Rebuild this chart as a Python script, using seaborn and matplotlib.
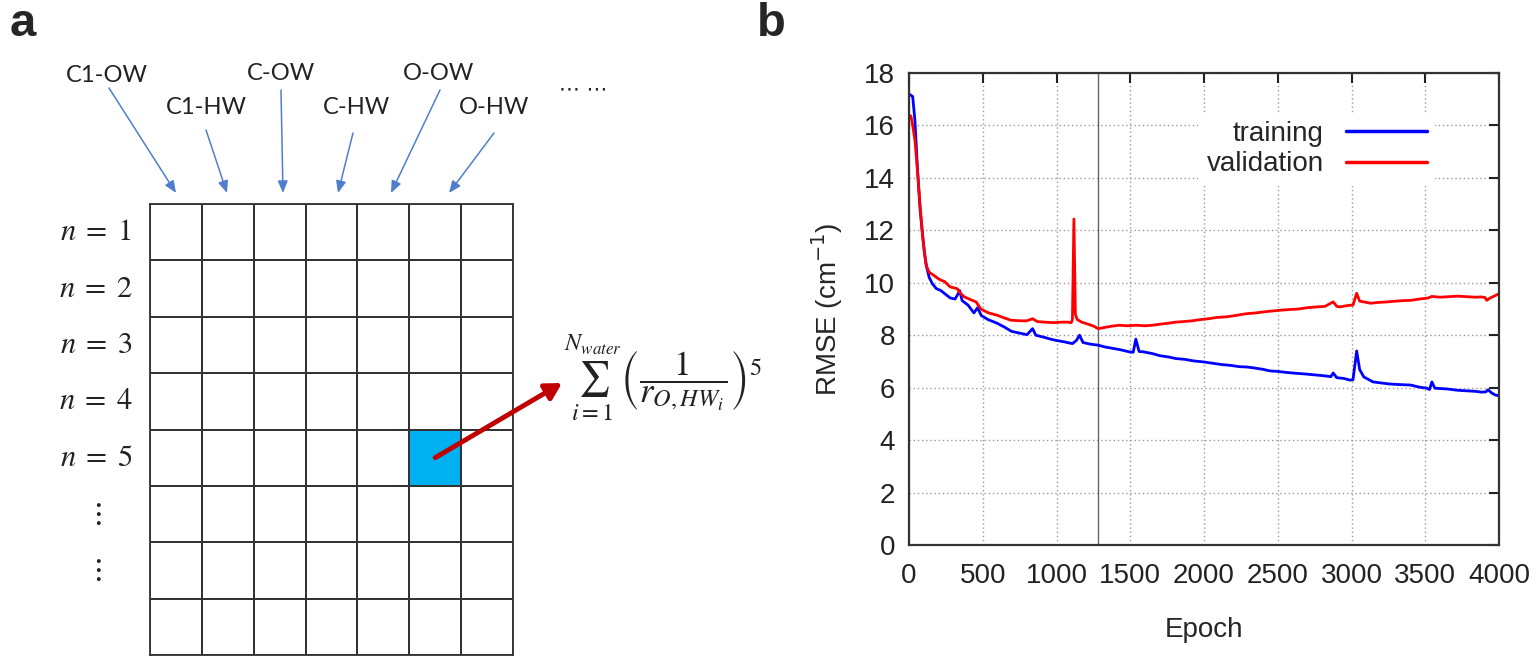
import numpy as np
import pandas as pd
import matplotlib
matplotlib.use("Agg")
import matplotlib.pyplot as plt
from matplotlib.colors import ListedColormap
import seaborn as sns

# ---------------- data: panel b ----------------
train_epoch = [0, 13, 25, 40, 57, 75, 96, 115, 137, 160, 185, 217, 250, 280, 312, 330, 344, 360,
               400, 440, 465, 490, 535, 600, 650, 694, 750, 800, 838, 860, 917, 960, 1000, 1050,
               1108, 1135, 1156, 1180, 1230, 1283, 1330, 1380, 1430, 1490, 1520, 1538, 1560, 1586,
               1650, 1700, 1760, 1809, 1870, 1930, 2000, 2060, 2120, 2180, 2240, 2287, 2330, 2400,
               2446, 2500, 2560, 2620, 2690, 2764, 2820, 2860, 2876, 2900, 2950, 2987, 3010, 3035,
               3055, 3083, 3120, 3146, 3200, 3260, 3320, 3401, 3460, 3510, 3529, 3545, 3565, 3592,
               3650, 3720, 3780, 3840, 3880, 3911, 3925, 3950, 3975, 4000]
train_rmse = [17.2, 17.15, 17.1, 16.2, 14.4, 12.8, 11.6, 10.7, 10.2, 9.95, 9.78, 9.7, 9.55, 9.42,
              9.38, 9.55, 9.7, 9.32, 9.15, 8.85, 9.05, 8.75, 8.6, 8.45, 8.3, 8.15, 8.08, 8.02, 8.25,
              8.0, 7.92, 7.85, 7.8, 7.75, 7.68, 7.8, 8.0, 7.72, 7.66, 7.62, 7.55, 7.5, 7.45, 7.37,
              7.35, 7.85, 7.38, 7.37, 7.3, 7.22, 7.17, 7.11, 7.08, 7.02, 6.98, 6.93, 6.88, 6.85, 6.8,
              6.79, 6.76, 6.7, 6.64, 6.62, 6.58, 6.55, 6.52, 6.48, 6.45, 6.42, 6.56, 6.38, 6.35, 6.29,
              6.3, 7.4, 6.7, 6.41, 6.3, 6.22, 6.18, 6.14, 6.12, 6.1, 6.02, 5.98, 5.93, 6.22, 5.98,
              5.97, 5.95, 5.9, 5.88, 5.86, 5.83, 5.84, 5.92, 5.8, 5.72, 5.69]

val_epoch = [0, 13, 25, 41, 57, 73, 89, 105, 121, 137, 169, 200, 217, 240, 280, 310, 328, 345,
             376, 420, 455, 487, 540, 599, 650, 694, 760, 800, 838, 870, 917, 980, 1040, 1076,
             1100, 1108, 1118, 1128, 1140, 1170, 1204, 1250, 1283, 1330, 1380, 1427, 1480, 1540,
             1600, 1650, 1700, 1760, 1809, 1860, 1920, 1980, 2032, 2090, 2150, 2210, 2287, 2350,
             2420, 2510, 2580, 2640, 2700, 2764, 2820, 2876, 2900, 2924, 2960, 2987, 3010, 3035,
             3055, 3083, 3130, 3180, 3242, 3300, 3350, 3401, 3460, 3520, 3545, 3600, 3660, 3720,
             3780, 3840, 3879, 3905, 3917, 3940, 3970, 4000]
val_rmse = [16.4, 16.35, 16.0, 15.4, 14.3, 13.1, 12.0, 11.1, 10.6, 10.4, 10.28, 10.15, 10.1,
            10.05, 9.84, 9.8, 9.77, 9.62, 9.46, 9.35, 9.27, 9.0, 8.85, 8.76, 8.65, 8.57, 8.55, 8.55,
            8.63, 8.52, 8.5, 8.48, 8.5, 8.5, 8.48, 8.6, 12.43, 8.8, 8.6, 8.5, 8.44, 8.35, 8.25,
            8.3, 8.35, 8.38, 8.36, 8.38, 8.36, 8.38, 8.42, 8.46, 8.5, 8.52, 8.55, 8.6, 8.63, 8.68,
            8.7, 8.75, 8.82, 8.85, 8.9, 8.95, 8.98, 9.0, 9.05, 9.08, 9.1, 9.27, 9.1, 9.08, 9.12,
            9.14, 9.15, 9.6, 9.3, 9.27, 9.22, 9.25, 9.27, 9.3, 9.32, 9.33, 9.38, 9.42, 9.48, 9.45,
            9.47, 9.49, 9.47, 9.45, 9.46, 9.44, 9.33, 9.42, 9.5, 9.58]

best_epoch = 1283
x_ticks = [0, 500, 1000, 1500, 2000, 2500, 3000, 3500, 4000]
y_ticks = [0, 2, 4, 6, 8, 10, 12, 14, 16, 18]

# ---------------- data: panel a ----------------
col_labels = ["C1-OW", "C1-HW", "C-OW", "C-HW", "O-OW", "O-HW"]
row_labels = [r"$n\;=\;1$", r"$n\;=\;2$", r"$n\;=\;3$", r"$n\;=\;4$", r"$n\;=\;5$",
              r"$\vdots$", r"$\vdots$", ""]
n_cols = 7
highlight_row, highlight_col = 4, 5

# ---------------- figure ----------------
sns.set_theme(style="white")
plt.rcParams["font.family"] = ["Liberation Sans", "DejaVu Sans"]
W, H = 1537, 668
fig = plt.figure(figsize=(W / 100, H / 100), dpi=100)

def fx(px):
    return px / W

def fy(py):
    return 1 - py / H

# overlay axes in pixel coordinates for diagram annotations
ov = fig.add_axes([0, 0, 1, 1])
ov.set_xlim(0, W)
ov.set_ylim(H, 0)
ov.axis("off")
ov.patch.set_visible(False)
ov.set_zorder(10)

# ---- panel a: grid via heatmap ----
gx0, gx1, gy0, gy1 = 150, 513, 204, 655
axg = fig.add_axes([fx(gx0), fy(gy1), fx(gx1 - gx0), (gy1 - gy0) / H])
cells = np.zeros((len(row_labels), n_cols))
cells[highlight_row, highlight_col] = 1
sns.heatmap(cells, ax=axg, cmap=ListedColormap(["white", "#00B0F0"]), cbar=False,
            linewidths=1.3, linecolor="#333333", xticklabels=False, yticklabels=row_labels,
            vmin=0, vmax=1)
for s in axg.spines.values():
    s.set_visible(True)
    s.set_color("#333333")
    s.set_linewidth(1.3)
axg.tick_params(axis="y", length=0, pad=39)
for t in axg.get_yticklabels():
    t.set_rotation(0)
    t.set_fontsize(22)
    t.set_ha("center")
    t.set_math_fontfamily("stix")
    t.set_color("#222222")

# column header labels and arrows
lab_xy = [(107, 75), (206, 108), (281, 74), (356, 108), (439, 74), (494, 108)]
arr_start = [(109, 88), (206, 130), (281, 90), (353, 133), (440, 90), (494, 133)]
arr_end = [(176, 193), (227, 193), (283, 193), (338, 193), (391, 193), (449, 193)]
for lab, (tx, ty), s, e in zip(col_labels, lab_xy, arr_start, arr_end):
    ov.text(tx, ty, lab, ha="center", va="center", fontsize=17, family=["Lato", "DejaVu Sans"],
            color="#222222")
    ov.annotate("", xy=e, xytext=s,
                arrowprops=dict(arrowstyle="-|>,head_length=0.6,head_width=0.25",
                                color="#4f7fcc", lw=1.1, shrinkA=0, shrinkB=0))
ov.text(583, 90, "\u22ef \u22ef", ha="center", va="center", fontsize=15, color="#222222",
        family=["DejaVu Sans"])

# red arrow from highlighted cell to the formula
ov.annotate("", xy=(562, 383), xytext=(highlight_col + 0.5, highlight_row + 0.5),
            textcoords=axg.transData, xycoords="data",
            arrowprops=dict(arrowstyle="-|>,head_length=0.8,head_width=0.45",
                            color="#C00000", lw=3.5, shrinkA=0, shrinkB=0))
ov.text(564, 378, r"$\sum_{i=1}^{N_{water}}\left(\dfrac{1}{r_{O,HW_i}}\right)^5$",
        ha="left", va="center", fontsize=25, math_fontfamily="stix", color="#222222")

# panel letters
ov.text(10, 24, "a", fontsize=34, fontweight="bold", ha="left", va="center",
        family=["Liberation Sans", "DejaVu Sans"])
ov.text(757, 24, "b", fontsize=34, fontweight="bold", ha="left", va="center",
        family=["Liberation Sans", "DejaVu Sans"])

# ---- panel b ----
axb = fig.add_axes([fx(909), fy(545), fx(1499 - 909), (545 - 73) / H])
df = pd.concat([
    pd.DataFrame({"Epoch": train_epoch, "RMSE": train_rmse, "series": "training"}),
    pd.DataFrame({"Epoch": val_epoch, "RMSE": val_rmse, "series": "validation"}),
], ignore_index=True)
sns.lineplot(data=df, x="Epoch", y="RMSE", hue="series", sort=False,
             palette={"training": "#0000ff", "validation": "#ff0000"}, lw=2.0, ax=axb)
axb.axvline(best_epoch, color="#666666", lw=1.0, zorder=1)
axb.set_xlim(0, 4000)
axb.set_ylim(0, 18)
axb.set_xticks(x_ticks)
axb.set_yticks(y_ticks)
axb.grid(True, linestyle=(0, (1, 2)), color="#999999", lw=1.0)
axb.tick_params(direction="in", length=7, width=1.5, top=True, right=True,
                labelsize=20, pad=10, colors="#222222")
axb.tick_params(axis="x", pad=13)
for s in axb.spines.values():
    s.set_color("#333333")
    s.set_linewidth(1.6)
axb.set_xlabel("Epoch", fontsize=20, labelpad=20)
axb.set_ylabel("RMSE (cm$^{-1}$)", fontsize=20, labelpad=14)
h, l = axb.get_legend_handles_labels()
leg = axb.legend(h, l, loc="upper right", bbox_to_anchor=(0.915, 0.945), frameon=True,
                 markerfirst=False, fontsize=20, handlelength=2.9, handletextpad=0.8,
                 labelspacing=0.15, borderpad=0.3, fancybox=False, framealpha=1)
leg.get_frame().set_edgecolor("none")
leg.get_frame().set_facecolor("white")
for ln in leg.get_lines():
    ln.set_linewidth(2.5)

fig.savefig("out.png", dpi=100)
